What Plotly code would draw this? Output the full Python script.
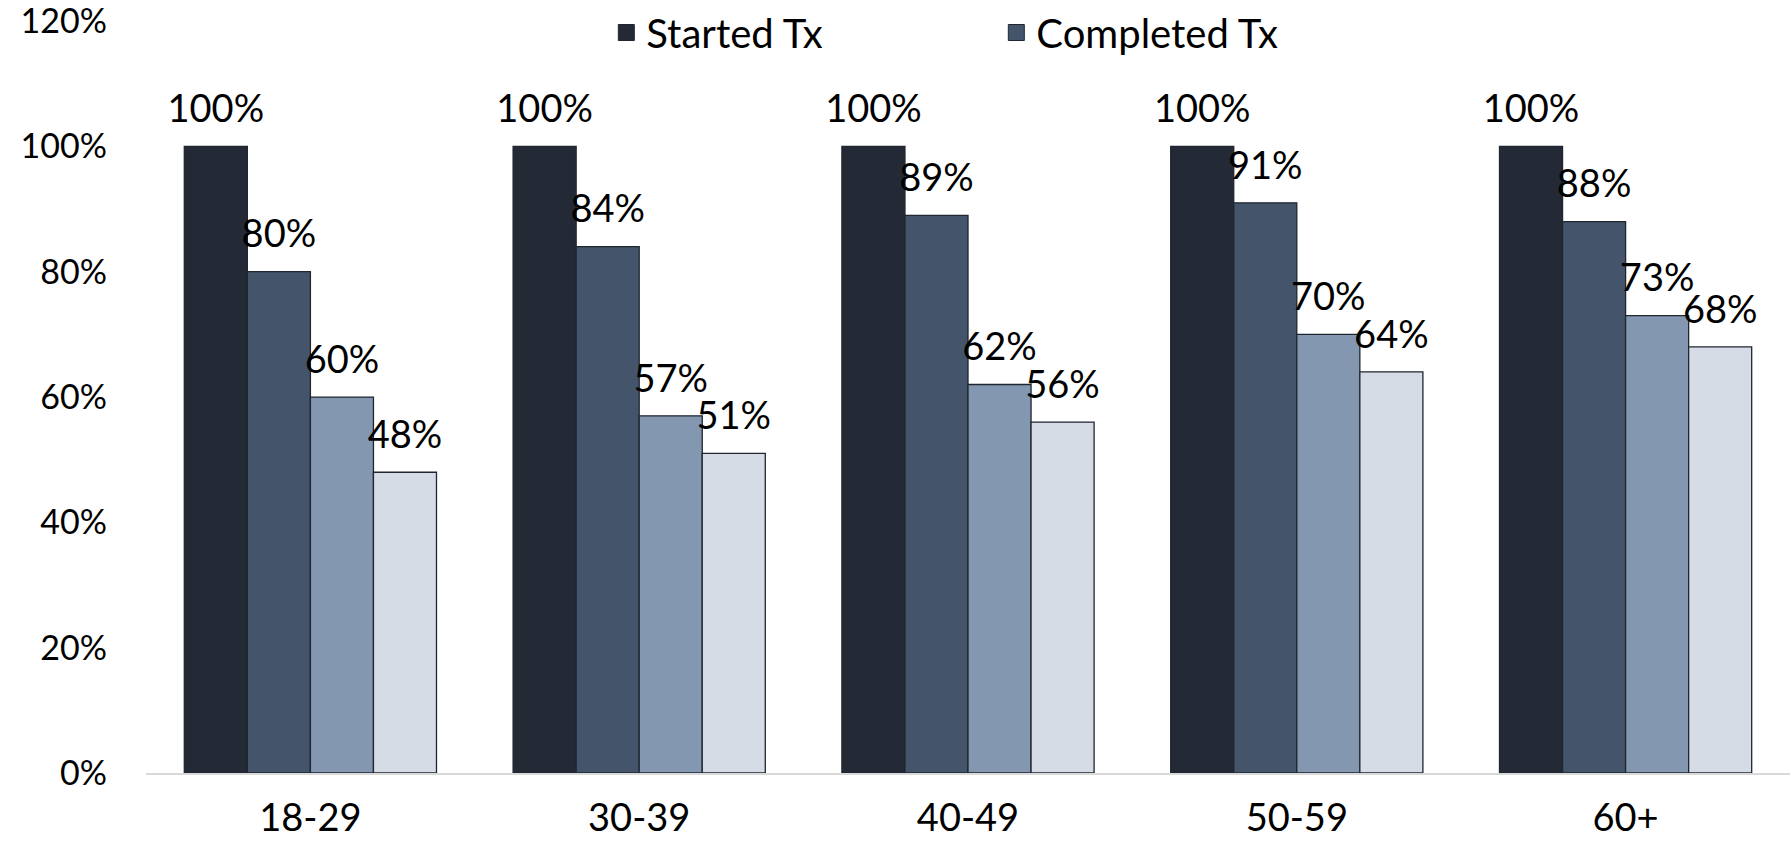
import plotly.graph_objects as go

categories = ["18-29", "30-39", "40-49", "50-59", "60+"]
started_tx = [100, 100, 100, 100, 100]
completed_tx = [80, 84, 89, 91, 88]
series_3 = [60, 57, 62, 70, 73]
series_4 = [48, 51, 56, 64, 68]
y_ticks = [0, 20, 40, 60, 80, 100, 120]
y_tick_labels = [f"{v}%" for v in y_ticks]

series = [
    ("Started Tx", started_tx, "#232a35", True),
    ("Completed Tx", completed_tx, "#44546a", True),
    ("Series 3", series_3, "#8497b0", False),
    ("Series 4", series_4, "#d6dce5", False),
]

FONT = "Lato, 'Open Sans', sans-serif"
OUTLINE = "#1f2630"

fig = go.Figure()
for i, (name, vals, color, show) in enumerate(series):
    fig.add_trace(go.Bar(
        x=categories, y=vals, name=name, showlegend=False, legendgroup=name,
        offsetgroup=str(i),
        marker=dict(color=color, line=dict(color=OUTLINE, width=1.3)),
    ))

# value labels, grouped like the bars
for i, (name, vals, color, show) in enumerate(series):
    fig.add_trace(go.Scatter(
        x=categories, y=vals, mode="markers+text", showlegend=False,
        offsetgroup=str(i), hoverinfo="skip", cliponaxis=False,
        marker=dict(size=22, color="rgba(0,0,0,0)"),
        text=[f"{v}%" for v in vals], textposition="top center",
        textfont=dict(family=FONT, size=38, color="#000000"),
    ))

# legend entries (square swatches) for the first two series
for name, vals, color, show in series:
    if show:
        fig.add_trace(go.Scatter(
            x=[None], y=[None], mode="markers", name=name, legendgroup=name,
            marker=dict(symbol="square", size=16, color=color,
                        line=dict(color=OUTLINE, width=1)),
        ))

fig.update_layout(
    width=1790, height=846,
    margin=dict(l=146, r=0, t=21, b=73),
    paper_bgcolor="white", plot_bgcolor="white",
    barmode="group", bargap=0.233, bargroupgap=0,
    scattermode="group", scattergap=0.233,
    font=dict(family=FONT, size=36, color="#000000"),
    legend=dict(orientation="h", x=0.28, xanchor="left", y=0.985, yanchor="middle",
                font=dict(family=FONT, size=40), entrywidth=345,
                itemsizing="trace", bgcolor="rgba(0,0,0,0)"),
    xaxis=dict(showgrid=False, showline=True, linecolor="#d9d9d9", linewidth=2,
               ticks="", ticklabelstandoff=10, automargin=False,
               tickfont=dict(family=FONT, size=38)),
    yaxis=dict(range=[0, 120.01], tickvals=y_ticks, ticktext=y_tick_labels,
               showgrid=False, showline=False, zeroline=False, ticks="",
               ticklabelstandoff=38, automargin=False, ticklabeloverflow="allow",
               tickfont=dict(family=FONT, size=34)),
)

fig.write_html("out.html")
